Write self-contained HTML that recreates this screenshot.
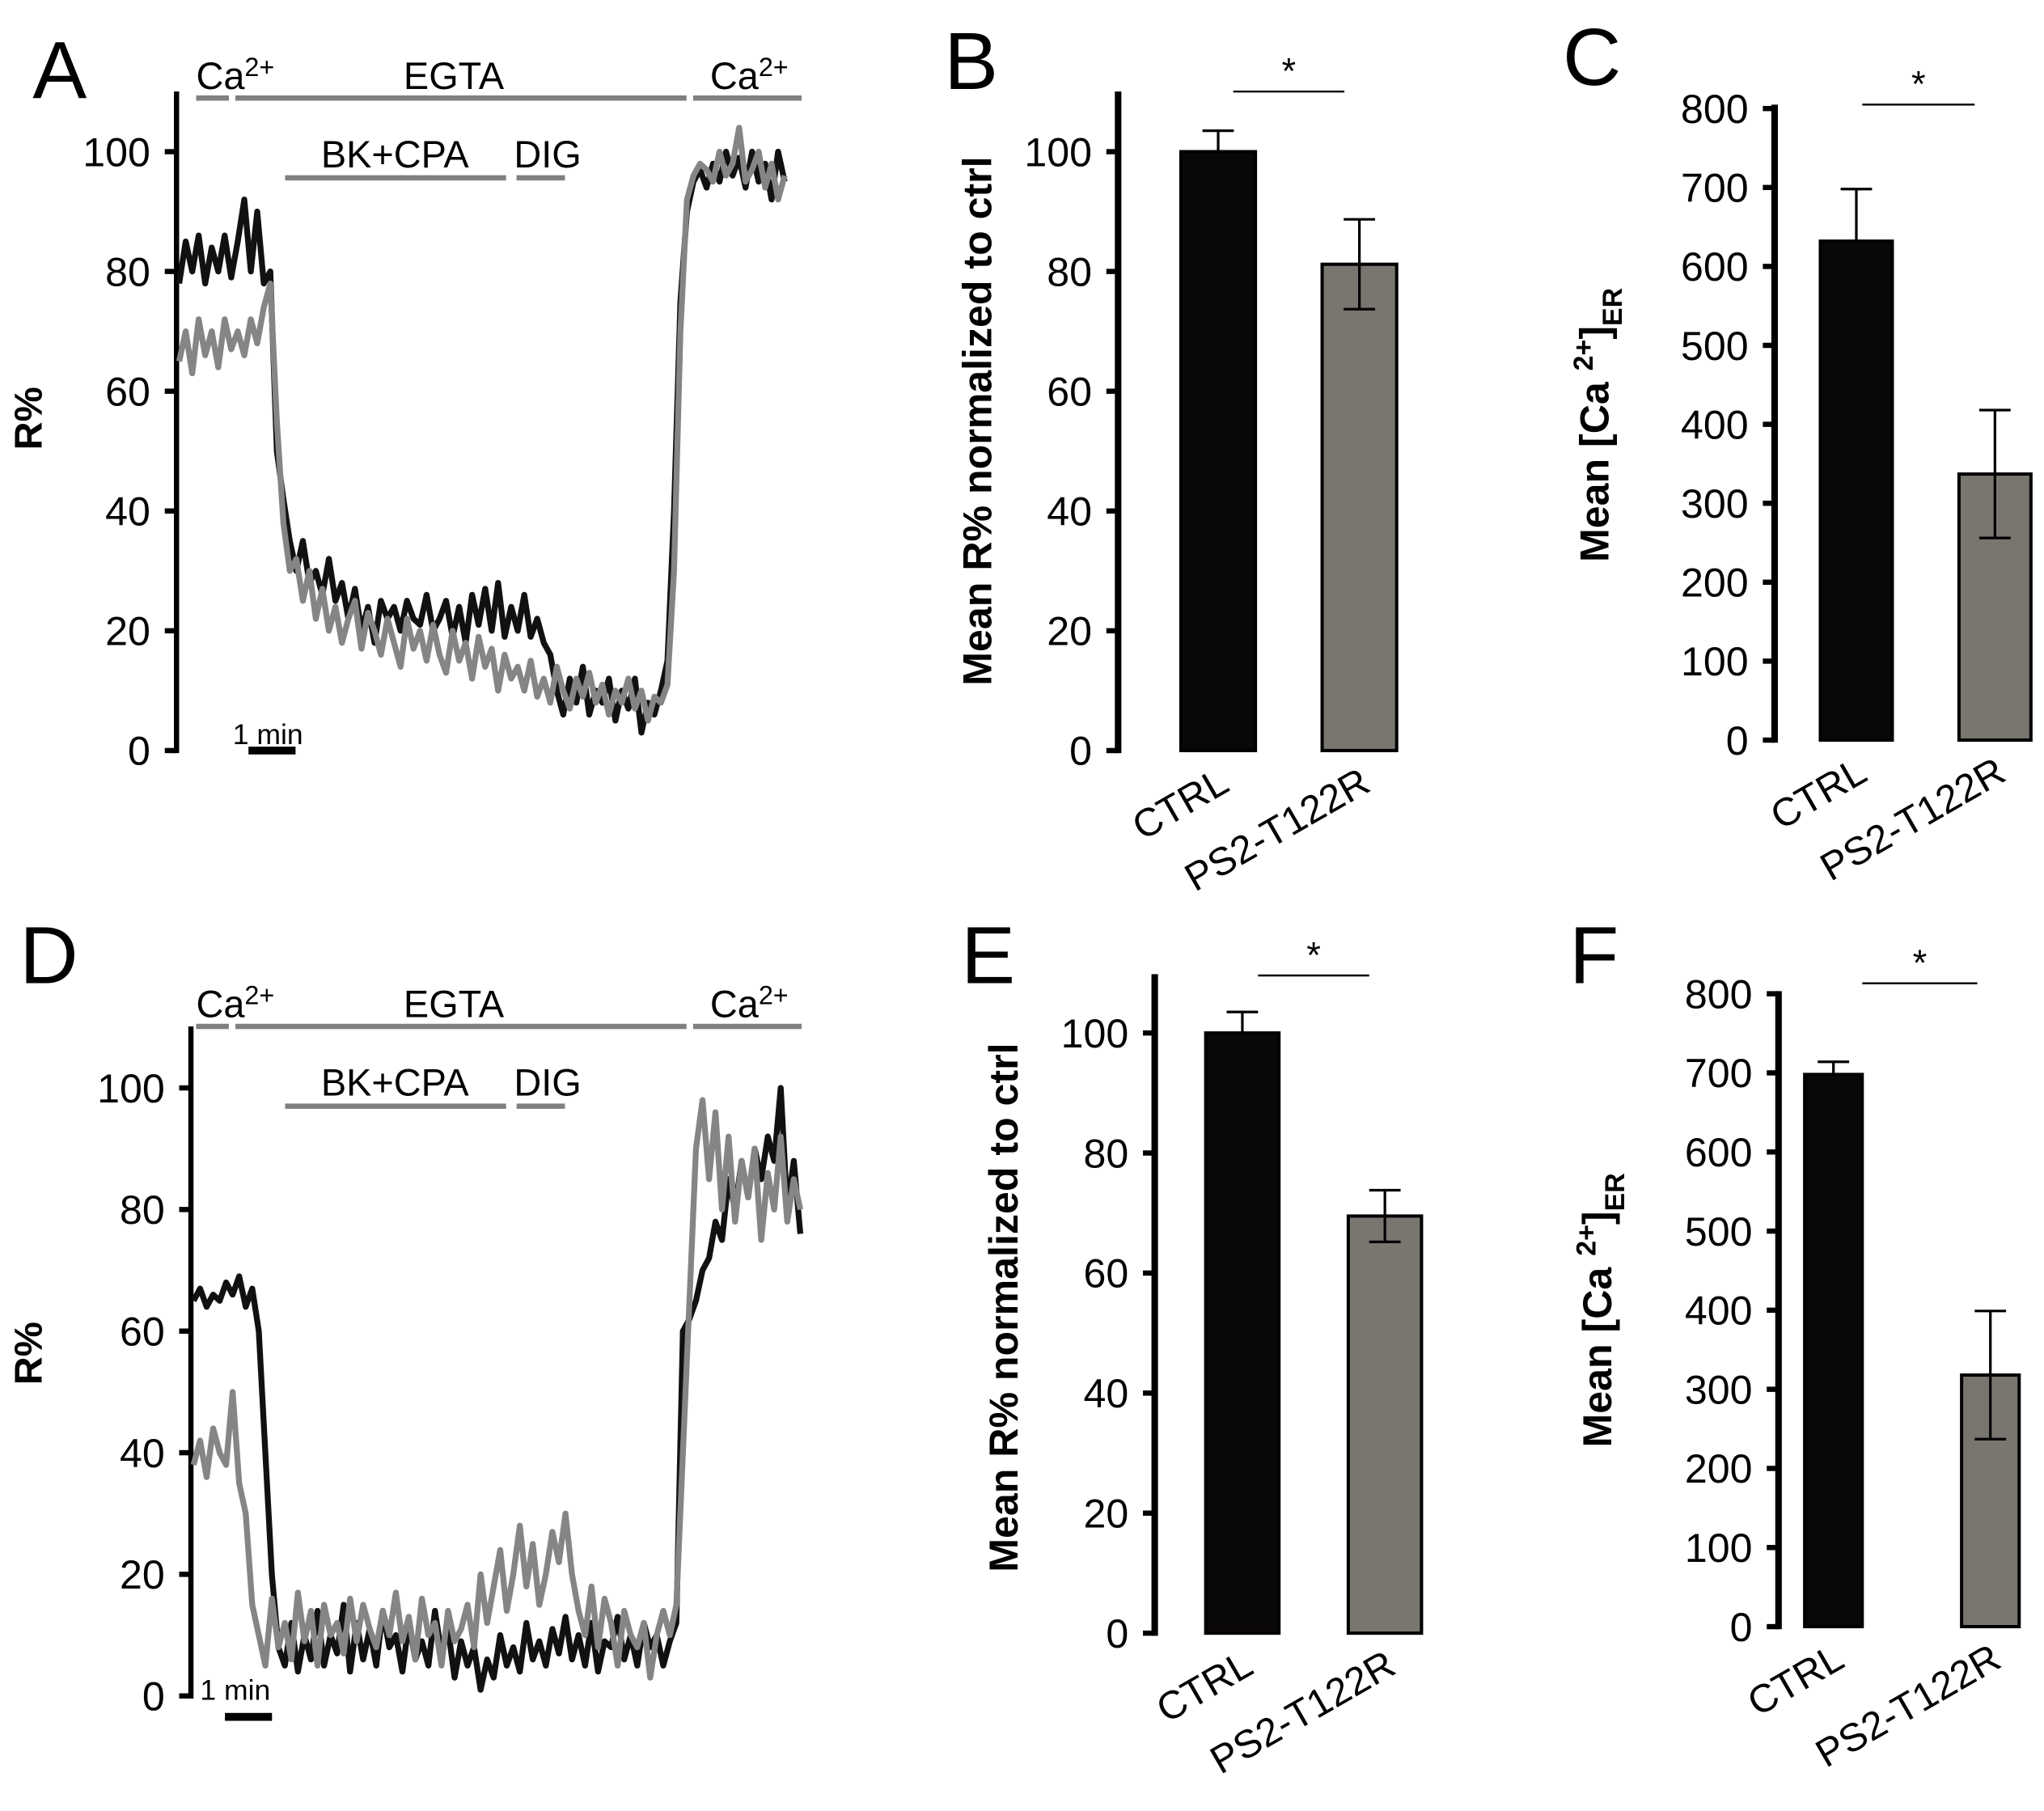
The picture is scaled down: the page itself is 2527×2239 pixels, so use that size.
<!DOCTYPE html>
<html><head><meta charset="utf-8"><style>
html,body{margin:0;padding:0;background:#fff;width:2527px;height:2239px;overflow:hidden}
svg{display:block}
text{font-family:"Liberation Sans",sans-serif}
</style></head><body>
<svg id="fig" width="2527" height="2239" viewBox="0 0 1563 1385" preserveAspectRatio="none" xmlns="http://www.w3.org/2000/svg"></svg>
<script>
// ---- data ----
const traceA_ctrl=[78,85,80,86,78,84,80,86,79,85,92,80,90,78,80,50,42,35,30,35,28,30,26,32,25,28,22,27,20,24,18,25,22,24,20,25,22,21,26,20,22,25,19,24,18,26,21,27,20,28,19,24,20,26,19,22,18,16,10,6,12,8,14,6,10,8,12,5,10,7,12,3,8,6,10,15,40,75,90,95,97,94,98,95,100,96,99,94,100,95,98,92,100,95];
const traceA_ps2=[65,70,63,72,66,70,64,72,67,70,66,72,68,74,78,55,38,30,32,25,30,22,27,20,24,18,22,25,17,23,20,16,22,18,14,22,17,20,15,21,16,13,20,15,18,12,19,14,17,10,16,12,14,10,15,9,12,8,14,10,7,12,9,13,8,11,6,10,8,12,7,10,5,9,8,11,30,70,92,96,98,97,95,100,96,98,104,95,97,100,94,98,92,96];
const traceD_ctrl=[65,67,64,66,65,68,66,69,64,67,60,40,20,8,5,12,4,10,6,14,5,10,7,15,4,12,6,11,5,14,8,10,4,12,6,9,5,14,7,11,3,9,5,8,1,6,3,10,5,8,4,12,6,9,5,11,7,13,6,10,5,12,4,9,8,13,6,10,5,12,8,10,5,9,12,60,62,65,70,72,78,75,85,80,88,82,90,85,92,88,100,80,88,76];
const traceD_ps2=[38,42,36,44,40,38,50,35,30,15,10,5,16,8,12,6,17,9,14,5,15,10,12,7,16,9,15,11,8,14,10,17,9,13,6,16,10,12,5,14,9,11,15,8,20,12,18,24,14,20,28,18,25,15,20,27,22,30,20,14,10,18,8,16,12,5,14,10,8,12,3,10,14,10,15,40,65,90,98,85,96,80,92,78,88,82,90,75,86,80,92,78,85,80];
const groups=["CTRL","PS2-T122R"];
const meanB=[100,81.2], errB=[3.5,7.5];
const meanC=[632,337], errC=[66,81];
const meanE=[100,69.5], errE=[3.5,4.3];
const meanF=[698,318], errF=[16,81];
const ticksR=[0,20,40,60,80,100];
const ticksCa=[0,100,200,300,400,500,600,700,800];

const svg=document.getElementById('fig');
const NS="http://www.w3.org/2000/svg";
function el(tag,attrs,parent){const e=document.createElementNS(NS,tag);for(const k in attrs)e.setAttribute(k,attrs[k]);(parent||svg).appendChild(e);return e;}
function txt(s,attrs,parent){const t=el('text',attrs,parent);t.textContent=s;return t;}

function letter(s,x,y){const t=txt(s,{x:x,y:y,'font-size':62});

}

function yAxis(g,x,y0,y1,ticks,scale,thick){
  const ax=el('line',{x1:x,y1:y0,x2:x,y2:y1,stroke:'#000','stroke-width':thick},g);
  
  
  ticks.forEach(v=>{const y=scale(v);
    el('line',{x1:x-9,y1:y,x2:x,y2:y,stroke:'#000','stroke-width':4},g);
    const t=txt(String(v),{x:x-20,y:y+11,'font-size':31,'text-anchor':'end'},g);
    
    });
}

function tracePanel(name,ox,yZero,y100,xl,xr,yTop,c1,c2,yLab,topY){
  const g=el('g',{});
  
  
  const sc=v=>yZero+(y100-yZero)*v/100;
  yAxis(g,ox,yTop,yZero+2,ticksR,sc,4);
  [[c1,'#111','trace-ctrl'],[c2,'#858585','trace-ps2']].forEach(([d,col,nm])=>{
    const n=d.length;const pts=d.map((v,i)=>(xl+(xr-xl)*i/(n-1)).toFixed(1)+','+sc(v).toFixed(1)).join(' ');
    const p=el('polyline',{points:pts,fill:'none',stroke:col,'stroke-width':4.5,'stroke-linejoin':'round'},g);
    
    });
  const t=txt('R%',{x:0,y:0,'font-size':30,'font-weight':'bold','text-anchor':'middle',transform:`translate(${yLab[0]},${yLab[1]}) rotate(-90)`},g);
  
  
  const bars=[[150,175,topY+7],[180,525,topY+7],[530,613,topY+7],[218,387,topY+68],[395,432,topY+68]];
  bars.forEach(b=>{const l=el('line',{x1:b[0],y1:b[2],x2:b[1],y2:b[2],stroke:'#808080','stroke-width':4},g);
    
    });
  const c=txt('',{x:150,y:topY,'font-size':29},g);c.innerHTML='Ca<tspan dy="-10" font-size="20">2+</tspan>';
  
  
  const c2b=txt('',{x:543,y:topY,'font-size':29},g);c2b.innerHTML='Ca<tspan dy="-10" font-size="20">2+</tspan>';
  
  
  const e=txt('EGTA',{x:347,y:topY,'font-size':29,'text-anchor':'middle'},g);
  
  
  const b=txt('BK+CPA',{x:302,y:topY+60,'font-size':29,'text-anchor':'middle'},g);
  
  
  const d=txt('DIG',{x:393,y:topY+60,'font-size':29},g);
  
  
}

function barPanel(name,ox,yZero,yMaxPix,vmax,ticks,means,errs,bx,bw,sig,ytitle,ca,yTop){
  const g=el('g',{});
  
  
  const sc=v=>yZero+(yMaxPix-yZero)*v/vmax;
  yAxis(g,ox,yTop,yZero+2,ticks,sc,5);
  means.forEach((m,i)=>{
    const y=sc(m);const x=bx[i];
    const r=el('rect',{x:x,y:y,width:bw,height:yZero-y,fill:i?'#79766f':'#0a0807',stroke:'#000','stroke-width':2.5},g);
    
    
    const cx=x+bw/2,yt=sc(m+errs[i]),yb=i?sc(m-errs[i]):y;
    el('line',{x1:cx,y1:yt,x2:cx,y2:yb,stroke:'#000','stroke-width':2},g);
    el('line',{x1:cx-12,y1:yt,x2:cx+12,y2:yt,stroke:'#000','stroke-width':2},g);
    if(i) el('line',{x1:cx-12,y1:yb,x2:cx+12,y2:yb,stroke:'#000','stroke-width':2},g);
    const lx=cx+10,ly=yZero+30;
    const t=txt(groups[i],{x:0,y:0,'font-size':30,'text-anchor':'end',transform:`translate(${lx},${ly}) rotate(-30)`},g);
    
    
  });
  const l=el('line',{x1:sig[0],y1:sig[2],x2:sig[1],y2:sig[2],stroke:'#000','stroke-width':1.5},g);
  
  
  const s=txt('*',{x:(sig[0]+sig[1])/2,y:sig[2]-6,'font-size':28,'text-anchor':'middle'},g);
  
  
  const t=txt('',{x:0,y:0,'font-size':31,'font-weight':'bold','text-anchor':'middle',transform:`translate(${ytitle[0]},${ytitle[1]}) rotate(-90)`},g);
  if(ca) t.innerHTML='Mean [Ca <tspan dy="-12" font-size="21">2+</tspan><tspan dy="12">]</tspan><tspan dy="10" font-size="21">ER</tspan>';
  else t.textContent='Mean R% normalized to ctrl';
  
  
}

letter('A',25,75);letter('B',722,68);letter('C',1195,65);
letter('D',15,752);letter('E',735,752);letter('F',1200,752);

tracePanel('panel-a',135,574,116,137,600,70,traceA_ctrl,traceA_ps2,[32,320],68);
const sbA=el('line',{x1:190,y1:574,x2:226,y2:574,stroke:'#000','stroke-width':6});


const sbAt=txt('1 min',{x:178,y:569,'font-size':22});



tracePanel('panel-d',146,1297,832,148,612,785,traceD_ctrl,traceD_ps2,[32,1035],778);
const sbD=el('line',{x1:172,y1:1313,x2:208,y2:1313,stroke:'#000','stroke-width':6});


const sbDt=txt('1 min',{x:153,y:1300,'font-size':22});



barPanel('panel-b',855,574,116,100,ticksR,meanB,errB,[903,1011],57,[943,1028,70],[758,322],false,70);
barPanel('panel-c',1357,566,83,800,ticksCa,meanC,errC,[1392,1498],55,[1424,1510,80],[1230,325],true,80);
barPanel('panel-e',883,1249,790,100,ticksR,meanE,errE,[922,1031],56,[962,1047,746],[778,1000],false,745);
barPanel('panel-f',1360,1244,760,800,ticksCa,meanF,errF,[1380,1500],44,[1424,1512,752],[1232,1002],true,758);
</script>
</body></html>
